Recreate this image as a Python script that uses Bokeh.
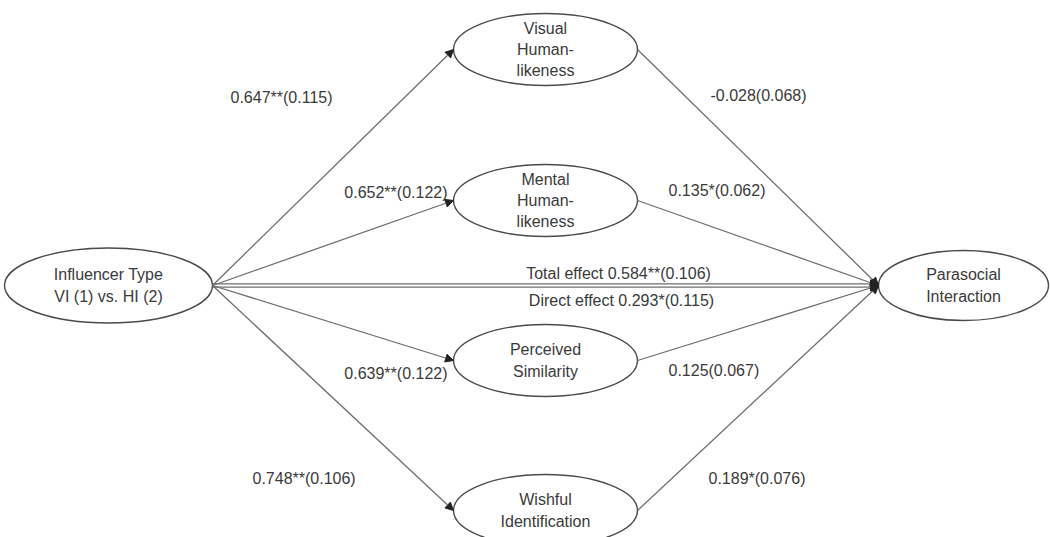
from bokeh.plotting import figure
from bokeh.models import Range1d, Arrow, NormalHead, ColumnDataSource
from bokeh.core.properties import value
from bokeh.embed import file_html
from bokeh.resources import INLINE

# ---- data ----
source_node = "Influencer Type\nVI (1) vs. HI (2)"
outcome_node = "Parasocial\nInteraction"
mediators = ["Visual\nHuman-\nlikeness", "Mental\nHuman-\nlikeness",
             "Perceived\nSimilarity", "Wishful\nIdentification"]
a_paths = ["0.647**(0.115)", "0.652**(0.122)", "0.639**(0.122)", "0.748**(0.106)"]
b_paths = ["-0.028(0.068)", "0.135*(0.062)", "0.125(0.067)", "0.189*(0.076)"]
total_effect = "Total effect 0.584**(0.106)"
direct_effect = "Direct effect 0.293*(0.115)"

# ---- layout (pixel-like units) ----
src_xy, src_wh = (108, 285), (208, 75)
out_xy, out_wh = (963, 285), (170, 70)
med_x = 545
med_y = [49, 200, 360, 510]
med_wh = (184, 72)

a_lab_x = [230, 447, 447, 252]
a_lab_y = [97, 192, 373, 478]
a_lab_align = ["left", "right", "right", "left"]
b_lab_x = [710, 668, 668, 708]
b_lab_y = [95, 190, 370, 478]

TEXT = "#3a3a3a"
LINE = "#6e6e6e"
FONT = value("Liberation Sans")

W, H = 1050, 537
p = figure(width=W, height=H, output_backend="svg", toolbar_location=None,
           x_range=Range1d(0, W), y_range=Range1d(H, 0), min_border=0)
p.axis.visible = False
p.grid.visible = False
p.outline_line_color = None
p.background_fill_color = "white"


def head():
    return NormalHead(size=8, fill_color="#222222", line_color="#222222", line_width=1)


sx, sy = src_xy[0] + src_wh[0] / 2, src_xy[1]
tx, ty = out_xy[0] - out_wh[0] / 2, out_xy[1]

# arrows from source to mediators and mediators to outcome
for y in med_y:
    p.add_layout(Arrow(end=head(), x_start=sx, y_start=sy,
                       x_end=med_x - med_wh[0] / 2, y_end=y,
                       line_color=LINE, line_width=1.3))
    p.add_layout(Arrow(end=head(), x_start=med_x + med_wh[0] / 2, y_start=y,
                       x_end=tx, y_end=ty,
                       line_color=LINE, line_width=1.3))

# total and direct effect lines
for off in (-1.6, 1.6):
    p.add_layout(Arrow(end=head(), x_start=sx, y_start=sy + off,
                       x_end=tx, y_end=ty + off,
                       line_color=LINE, line_width=1.2))

# ellipses
ell = ColumnDataSource(dict(
    x=[src_xy[0], out_xy[0]] + [med_x] * len(med_y),
    y=[src_xy[1], out_xy[1]] + med_y,
    w=[src_wh[0], out_wh[0]] + [med_wh[0]] * len(med_y),
    h=[src_wh[1], out_wh[1]] + [med_wh[1]] * len(med_y),
    t=[source_node, outcome_node] + mediators,
))
p.ellipse(x="x", y="y", width="w", height="h", source=ell,
          fill_color="white", line_color="#4a4a4a", line_width=1.4)
p.text(x="x", y="y", text="t", source=ell, text_font=FONT, text_font_size="16px",
       text_color=TEXT, text_align="center", text_baseline="middle", text_line_height=1.25)

# coefficient labels
la = ColumnDataSource(dict(x=a_lab_x, y=a_lab_y, t=a_paths, al=a_lab_align))
p.text(x="x", y="y", text="t", source=la, text_font=FONT, text_font_size="16px",
       text_color=TEXT, text_align="al", text_baseline="middle")
lb = ColumnDataSource(dict(x=b_lab_x, y=b_lab_y, t=b_paths))
p.text(x="x", y="y", text="t", source=lb, text_font=FONT, text_font_size="16px",
       text_color=TEXT, text_align="left", text_baseline="middle")
le = ColumnDataSource(dict(x=[618, 621], y=[273, 300], t=[total_effect, direct_effect]))
p.text(x="x", y="y", text="t", source=le, text_font=FONT, text_font_size="16px",
       text_color=TEXT, text_align="center", text_baseline="middle")

open("out.html", "w").write(file_html(p, INLINE))
